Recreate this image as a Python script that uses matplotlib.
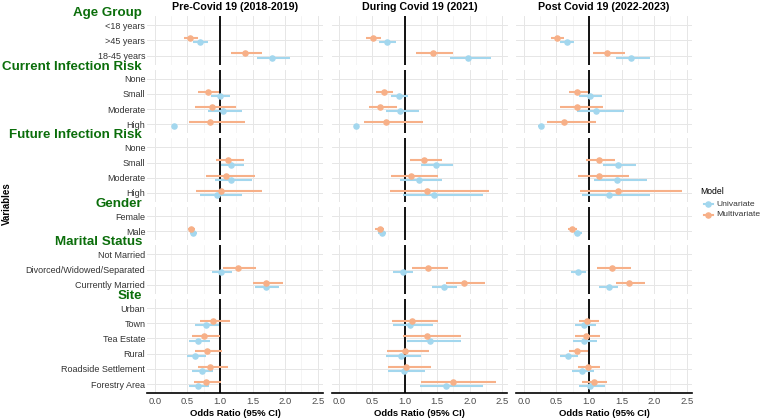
import numpy as np
import matplotlib
matplotlib.use("Agg")
import matplotlib.pyplot as plt
from matplotlib.lines import Line2D

plt.rcParams["font.family"] = ["Liberation Sans", "DejaVu Sans"]

nan = np.nan

# ---- categories ----
groups = ["Age Group", "Current Infection Risk", "Future Infection Risk",
          "Gender", "Marital Status", "Site"]
levels = [["<18 years", ">45 years", "18-45 years"],
          ["None", "Small", "Moderate", "High"],
          ["None", "Small", "Moderate", "High"],
          ["Female", "Male"],
          ["Not Married", "Divorced/Widowed/Separated", "Currently Married"],
          ["Urban", "Town", "Tea Estate", "Rural", "Roadside Settlement", "Forestry Area"]]
periods = ["Pre-Covid 19 (2018-2019)", "During Covid 19 (2021)", "Post Covid 19 (2022-2023)"]
models = ["Univariate", "Multivariate"]

# ---- odds ratios (flattened in category order) ----
pre_uni_or = [nan, 0.69, 1.80, nan, 1.00, 1.04, 0.30, nan, 1.17, 1.17, 0.96, nan, 0.58, nan, 1.01, 1.71, nan, 0.78, 0.67, 0.61, 0.72, 0.66]
pre_uni_lo = [nan, 0.59, 1.56, nan, 0.86, 0.81, 0.26, nan, 1.02, 0.92, 0.69, nan, 0.54, nan, 0.87, 1.53, nan, 0.62, 0.53, 0.49, 0.57, 0.53]
pre_uni_hi = [nan, 0.81, 2.07, nan, 1.16, 1.33, 0.34, nan, 1.37, 1.49, 1.34, nan, 0.64, nan, 1.18, 1.91, nan, 0.98, 0.85, 0.78, 0.90, 0.83]
pre_mul_or = [nan, 0.54, 1.38, nan, 0.81, 0.88, 0.85, nan, 1.13, 1.09, 1.01, nan, 0.56, nan, 1.27, 1.71, nan, 0.89, 0.76, 0.80, 0.85, 0.79]
pre_mul_lo = [nan, 0.45, 1.17, nan, 0.67, 0.62, 0.53, nan, 0.94, 0.78, 0.63, nan, 0.51, nan, 1.04, 1.50, nan, 0.69, 0.57, 0.61, 0.66, 0.60]
pre_mul_hi = [nan, 0.66, 1.64, nan, 0.98, 1.24, 1.39, nan, 1.37, 1.53, 1.64, nan, 0.61, nan, 1.55, 1.97, nan, 1.16, 1.00, 1.03, 1.12, 1.02]

dur_uni_or = [nan, 0.73, 1.98, nan, 0.91, 0.93, 0.26, nan, 1.48, 1.22, 1.46, nan, 0.66, nan, 0.97, 1.60, nan, 1.08, 1.39, 0.95, 0.99, 1.64]
dur_uni_lo = [nan, 0.61, 1.70, nan, 0.79, 0.71, 0.23, nan, 1.26, 0.93, 0.97, nan, 0.60, nan, 0.83, 1.42, nan, 0.82, 1.04, 0.72, 0.75, 1.24]
dur_uni_hi = [nan, 0.87, 2.32, nan, 1.06, 1.23, 0.30, nan, 1.74, 1.58, 2.21, nan, 0.72, nan, 1.13, 1.80, nan, 1.44, 1.86, 1.26, 1.32, 2.20]
dur_mul_or = [nan, 0.52, 1.43, nan, 0.69, 0.63, 0.71, nan, 1.30, 1.10, 1.34, nan, 0.62, nan, 1.36, 1.92, nan, 1.11, 1.34, 1.00, 1.03, 1.74]
dur_mul_lo = [nan, 0.41, 1.18, nan, 0.57, 0.45, 0.38, nan, 1.08, 0.79, 0.78, nan, 0.55, nan, 1.11, 1.64, nan, 0.81, 0.98, 0.73, 0.75, 1.26]
dur_mul_hi = [nan, 0.64, 1.74, nan, 0.83, 0.89, 1.29, nan, 1.58, 1.52, 2.29, nan, 0.69, nan, 1.67, 2.24, nan, 1.51, 1.86, 1.37, 1.40, 2.40]

post_uni_or = [nan, 0.66, 1.65, nan, 1.01, 1.11, 0.26, nan, 1.45, 1.43, 1.31, nan, 0.82, nan, 0.83, 1.30, nan, 0.93, 0.93, 0.68, 0.89, 1.01]
post_uni_lo = [nan, 0.56, 1.41, nan, 0.84, 0.81, 0.22, nan, 1.21, 1.08, 0.90, nan, 0.77, nan, 0.72, 1.16, nan, 0.78, 0.76, 0.56, 0.74, 0.85]
post_uni_hi = [nan, 0.77, 1.93, nan, 1.20, 1.54, 0.30, nan, 1.72, 1.89, 1.94, nan, 0.89, nan, 0.96, 1.45, nan, 1.10, 1.13, 0.83, 1.07, 1.24]
post_mul_or = [nan, 0.51, 1.28, nan, 0.82, 0.81, 0.62, nan, 1.15, 1.15, 1.45, nan, 0.74, nan, 1.36, 1.61, nan, 0.97, 0.96, 0.82, 0.98, 1.07]
post_mul_lo = [nan, 0.41, 1.06, nan, 0.69, 0.56, 0.35, nan, 0.95, 0.83, 0.86, nan, 0.68, nan, 1.13, 1.42, nan, 0.84, 0.79, 0.70, 0.83, 0.90]
post_mul_hi = [nan, 0.61, 1.55, nan, 0.98, 1.21, 1.10, nan, 1.40, 1.61, 2.42, nan, 0.81, nan, 1.64, 1.86, nan, 1.15, 1.17, 0.99, 1.17, 1.27]

data = {
    (0, "Univariate"): (pre_uni_or, pre_uni_lo, pre_uni_hi),
    (0, "Multivariate"): (pre_mul_or, pre_mul_lo, pre_mul_hi),
    (1, "Univariate"): (dur_uni_or, dur_uni_lo, dur_uni_hi),
    (1, "Multivariate"): (dur_mul_or, dur_mul_lo, dur_mul_hi),
    (2, "Univariate"): (post_uni_or, post_uni_lo, post_uni_hi),
    (2, "Multivariate"): (post_mul_or, post_mul_lo, post_mul_hi),
}
colors = {"Univariate": "#a3d7ee", "Multivariate": "#f7b088"}
dodge = {"Univariate": 0.14, "Multivariate": -0.14}

# ---- layout in pixels ----
W, H = 761, 418
fig = plt.figure(figsize=(W / 100, H / 100), dpi=100)
unit, gap, top0 = 15.2, 4.9, 16.0
col_left = [147, 331.5, 516]
col_w = 176
green = "#0b6e0b"

def fx(px):
    return px / W

def fy(py):
    return 1 - py / H

top = top0
start = 0
for gi, (gname, levs) in enumerate(zip(groups, levels)):
    n = len(levs)
    h = (n + 0.2) * unit
    fig.text(fx(142), fy(top - 3), gname, ha="right", va="center",
             fontsize=9.6, fontweight="bold", color=green)
    for ci in range(3):
        ax = fig.add_axes([fx(col_left[ci]), fy(top + h), col_w / W, h / H])
        ax.set_xlim(-0.12, 2.58)
        ax.set_ylim(n - 0.4, -0.6)
        ax.set_xticks(np.arange(0, 2.51, 0.5))
        ax.set_xticks(np.arange(0.25, 2.5, 0.5), minor=True)
        ax.set_yticks(range(n))
        ax.grid(True, which="major", color="#e6e6e6", lw=0.7)
        ax.grid(True, which="minor", axis="x", color="#f0f0f0", lw=0.5)
        ax.set_axisbelow(True)
        for s in ax.spines.values():
            s.set_visible(False)
        ax.tick_params(length=0, which="both")
        if ci == 0:
            ax.set_yticklabels(levs, fontsize=6.5, color="#333333")
            ax.tick_params(axis="y", pad=1.2)
        else:
            ax.set_yticklabels([])
        if gi == len(groups) - 1:
            ax.spines["bottom"].set_visible(True)
            ax.spines["bottom"].set_color("black")
            ax.spines["bottom"].set_linewidth(1.2)
            ax.set_xticklabels(["0.0", "0.5", "1.0", "1.5", "2.0", "2.5"],
                               fontsize=6.8, color="#4d4d4d")
            ax.tick_params(axis="x", pad=3)
            ax.set_xlabel("Odds Ratio (95% CI)", fontsize=6.8, fontweight="bold",
                          labelpad=2)
        else:
            ax.set_xticklabels([])
        ax.axvline(1, color="black", lw=1.3, zorder=2)
        for m in models:
            o, lo, hi = data[(ci, m)]
            yy = np.arange(n) + dodge[m]
            ov = np.array(o[start:start + n])
            lv = np.array(lo[start:start + n])
            hv = np.array(hi[start:start + n])
            ax.hlines(yy, lv, hv, color=colors[m], lw=1.5, zorder=3)
            ax.plot(ov, yy, "o", color=colors[m], ms=3.7, zorder=4)
        if gi == 0:
            ax.set_title(periods[ci], fontsize=7.7, fontweight="bold", pad=4)
    top += h + gap
    start += n

fig.text(fx(7), fy(204), "Variables", rotation=90, ha="center", va="center",
         fontsize=7, fontweight="bold")

# ---- legend ----
fig.text(fx(700), fy(192), "Model", ha="left", va="center", fontsize=6.2)
for i, m in enumerate(models):
    yl = fy(204 + 11 * i)
    fig.add_artist(Line2D([fx(703.5), fx(712.5)], [yl, yl], color=colors[m], lw=1.5))
    fig.add_artist(Line2D([fx(708)], [yl], marker="o", color=colors[m], ms=3.7))
    fig.text(fx(716), yl, m, ha="left", va="center", fontsize=6.1, color="#333333")

fig.savefig("out.png", dpi=100, facecolor="white")
